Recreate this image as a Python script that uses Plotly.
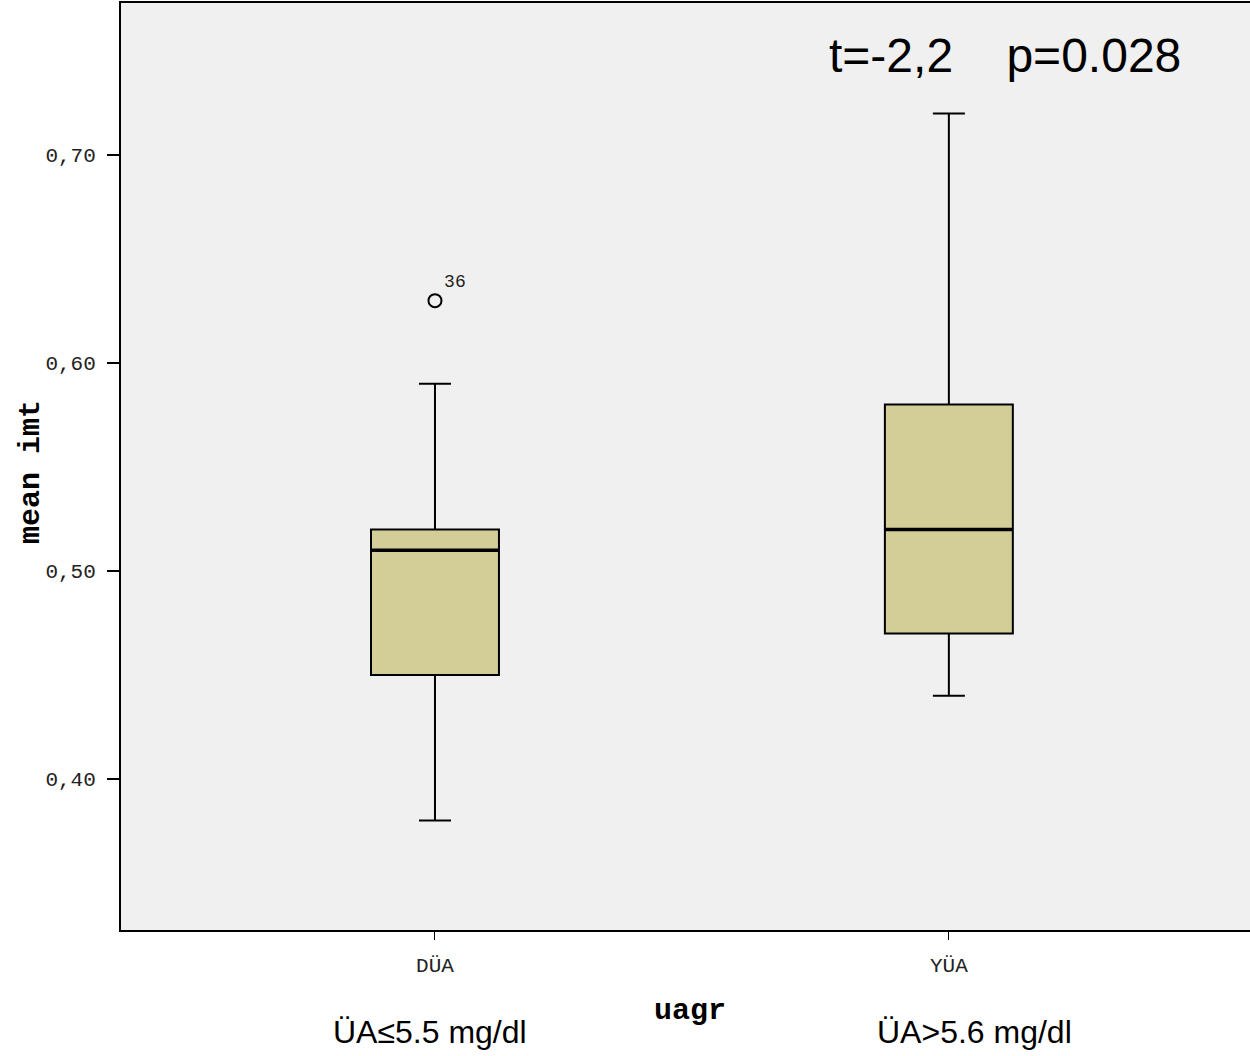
import plotly.graph_objects as go

categories = ["DÜA", "YÜA"]
group_labels = ["ÜA≤5.5 mg/dl", "ÜA>5.6 mg/dl"]
q1 = [0.45, 0.47]
median = [0.51, 0.52]
q3 = [0.52, 0.58]
lower = [0.38, 0.44]
upper = [0.59, 0.72]
outlier_group = [0]
outlier_value = [0.63]
outlier_label = ["36"]
y_ticks = [0.40, 0.50, 0.60, 0.70]
y_ticktext = ["0,40", "0,50", "0,60", "0,70"]
stat_text = "t=-2,2    p=0.028"

xs = list(range(len(categories)))
fill = "#D3CE98"
bw = 0.249

fig = go.Figure()
fig.add_trace(go.Box(
    x=xs, q1=q1, median=median, q3=q3, lowerfence=lower, upperfence=upper,
    fillcolor=fill, line=dict(color="black", width=2), width=bw,
    whiskerwidth=0.25, boxpoints=False, showlegend=False, hoverinfo="skip",
))
# thicker median lines
for i, m in enumerate(median):
    fig.add_trace(go.Scatter(
        x=[xs[i] - bw / 2, xs[i] + bw / 2], y=[m, m], mode="lines",
        line=dict(color="black", width=3.5), showlegend=False, hoverinfo="skip"))
fig.add_trace(go.Scatter(
    x=[xs[g] for g in outlier_group], y=outlier_value, mode="markers+text",
    marker=dict(symbol="circle-open", size=13, color="black", line=dict(width=2)),
    text=outlier_label, textposition="top right",
    textfont=dict(family="Liberation Mono", size=18, color="#222"),
    showlegend=False, hoverinfo="skip"))

fig.update_layout(
    width=1250, height=1056,
    margin=dict(l=121, r=0, t=3, b=126),
    plot_bgcolor="#F0F0F0", paper_bgcolor="white",
    xaxis=dict(range=[-0.611, 1.586], tickvals=xs, ticktext=categories,
               showline=True, linecolor="black", linewidth=2, mirror=True,
               ticks="outside", ticklen=8, tickwidth=1, tickcolor="black",
               showgrid=False, zeroline=False, ticklabelstandoff=7,
               tickfont=dict(family="Liberation Mono", size=21, color="#222")),
    yaxis=dict(range=[0.3274, 0.7731], tickvals=y_ticks, ticktext=y_ticktext,
               showline=True, linecolor="black", linewidth=2,
               ticks="outside", ticklen=12, tickwidth=2, tickcolor="black",
               showgrid=False, zeroline=False, ticklabelstandoff=7,
               tickfont=dict(family="Liberation Mono", size=21, color="#222")),
    annotations=[
        dict(text=stat_text, x=1005, y=56, showarrow=False,
             font=dict(family="Liberation Sans", size=48, color="black")),
        dict(text="<b>uagr</b>", x=690, y=1011, showarrow=False,
             font=dict(family="Liberation Mono", size=30, color="black")),
        dict(text="<b>mean imt</b>", x=31, y=472, showarrow=False, textangle=-90,
             font=dict(family="Liberation Mono", size=30, color="black")),
        dict(text=group_labels[0], x=430, y=1032, showarrow=False,
             font=dict(family="Liberation Sans", size=32, color="black")),
        dict(text=group_labels[1], x=974, y=1032, showarrow=False,
             font=dict(family="Liberation Sans", size=32, color="black")),
    ],
)
# convert annotation pixel positions to paper coords
pl, pr, pt, pb = 121, 1250, 3, 930
new = []
for a in fig.layout.annotations:
    a = a.to_plotly_json()
    a["xref"] = "paper"; a["yref"] = "paper"
    a["x"] = (a["x"] - pl) / (pr - pl)
    a["y"] = (pb - a["y"]) / (pb - pt)
    a["xanchor"] = "center"; a["yanchor"] = "middle"
    new.append(a)
fig.layout.annotations = new

fig.write_html("out.html", config={"displayModeBar": False},
               post_script="document.body.style.margin='0';")
